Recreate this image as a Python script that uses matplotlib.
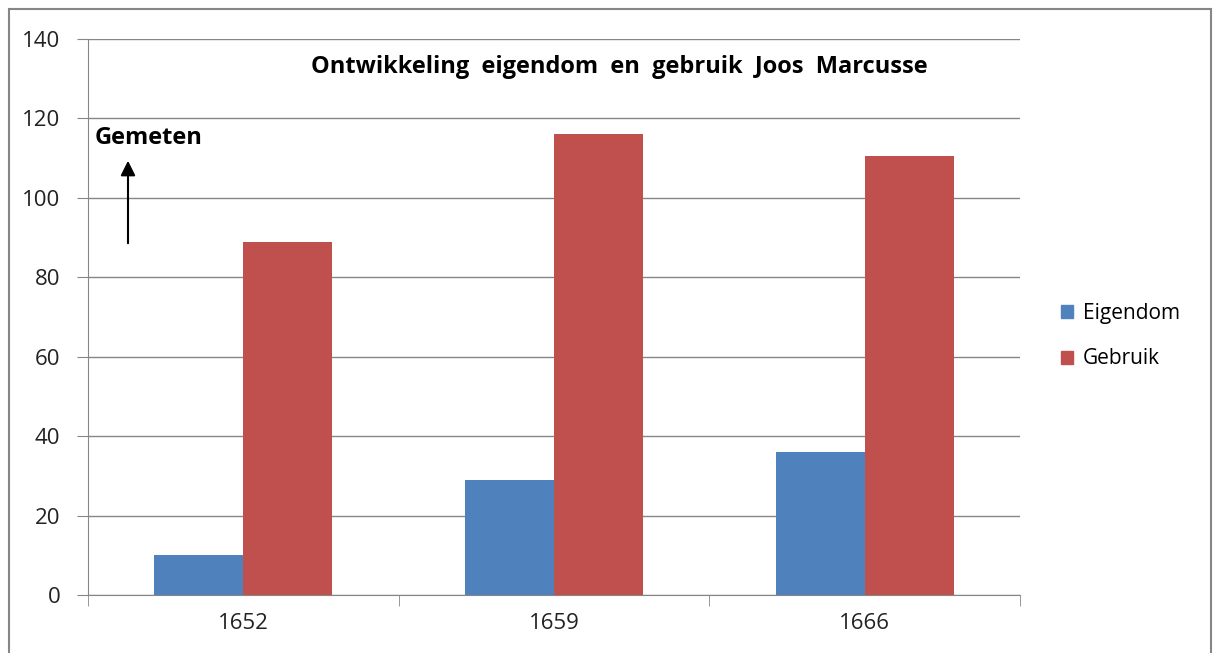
import matplotlib
matplotlib.use("Agg")
import matplotlib.pyplot as plt
import numpy as np
from matplotlib.patches import Rectangle
from matplotlib.lines import Line2D

years = ["1652", "1659", "1666"]
eigendom = [10, 29, 36]
gebruik = [89, 116, 110.5]
series_names = ["Eigendom", "Gebruik"]
colors = ["#4F81BD", "#C0504D"]
yticks = [0, 20, 40, 60, 80, 100, 120, 140]

W, H = 1214, 653
fig = plt.figure(figsize=(W / 100, H / 100), dpi=100)
plt.rcParams['font.family'] = ['Open Sans', 'DejaVu Sans']

def fx(px): return px / W
def fy(py): return 1 - py / H

ax = fig.add_axes([fx(88), fy(595), fx(1020) - fx(88), fy(39) - fy(595)])
x = np.arange(len(years))
bw = 89 / 311
ax.bar(x - bw / 2, eigendom, width=bw, color=colors[0], label=series_names[0], zorder=3)
ax.bar(x + bw / 2, gebruik, width=bw, color=colors[1], label=series_names[1], zorder=3)

ax.set_xlim(-0.5, len(years) - 0.5)
ax.set_ylim(0, 140)
ax.set_yticks(yticks)
ax.set_yticklabels([str(v) for v in yticks], fontsize=16, color="#222222")
ax.set_xticks(x)
ax.set_xticklabels(years, fontsize=16, color="#222222")
ax.tick_params(axis='x', length=0, pad=13)
ax.tick_params(axis='y', length=8, color="#868686", pad=12)
ax.set_xticks(np.arange(-0.5, len(years), 1.0), minor=True)
ax.tick_params(axis='x', which='minor', length=8, color="#868686", direction='out')
ax.grid(axis='y', color="#868686", linewidth=1, zorder=0)
for s in ['top', 'right']:
    ax.spines[s].set_visible(False)
ax.spines['left'].set_color("#868686")
ax.spines['bottom'].set_color("#868686")

fig.text(fx(619), fy(67), "Ontwikkeling  eigendom  en  gebruik  Joos  Marcusse",
         ha='center', va='center', fontsize=17, fontweight='bold')
fig.text(fx(95), fy(138), "Gemeten", ha='left', va='center', fontsize=17, fontweight='bold')
fig.add_artist(matplotlib.patches.FancyArrowPatch((fx(128), fy(246)), (fx(128), fy(158)),
               transform=fig.transFigure, arrowstyle='-|>', mutation_scale=22,
               color='black', linewidth=1.5))

handles = [Rectangle((0, 0), 1, 1, color=c) for c in colors]
fig.legend(handles, series_names, loc='center left', bbox_to_anchor=(fx(1042), fy(336)),
           frameon=False, fontsize=15, handlelength=0.6, handleheight=0.6,
           handletextpad=0.45, labelspacing=1.2)

# outer border
fig.add_artist(Line2D([fx(9), fx(9)], [fy(9), 0], transform=fig.transFigure, color="#868686", lw=1.5))
fig.add_artist(Line2D([fx(9), fx(1211)], [fy(9), fy(9)], transform=fig.transFigure, color="#868686", lw=1.5))
fig.add_artist(Line2D([fx(1211), fx(1211)], [fy(9), 0], transform=fig.transFigure, color="#868686", lw=1.5))

fig.savefig("out.png", dpi=100)
